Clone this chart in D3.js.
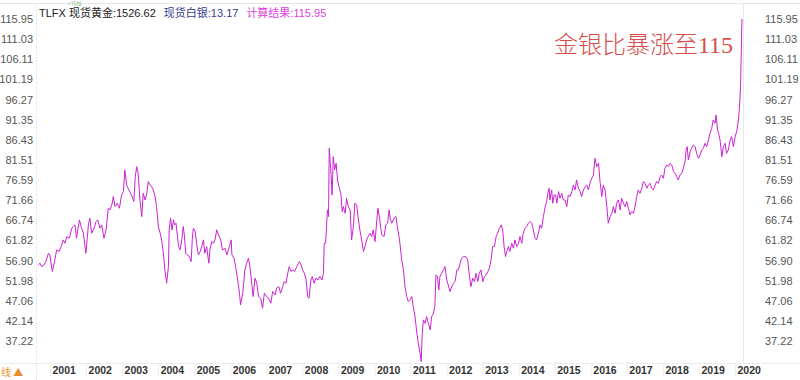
<!DOCTYPE html>
<html>
<head>
<meta charset="utf-8">
<script src="https://cdn.jsdelivr.net/npm/d3@7"></script>
<style>
  html, body { margin: 0; padding: 0; background: #fff; }
  svg { display: block; }
</style>
</head>
<body>
<svg id="chart" width="800" height="380"></svg>
<script>
// ---- data ----
const yearTicks = [2001,2002,2003,2004,2005,2006,2007,2008,2009,2010,2011,2012,2013,2014,2015,2016,2017,2018,2019,2020];
const valueTicks = [115.95,111.03,106.11,101.19,96.27,91.35,86.43,81.51,76.59,71.66,66.74,61.82,56.90,51.98,47.06,42.14,37.22];

// time in decimal years
const dates = [
2000.62,2000.67,2000.71,2000.78,2000.83,2000.90,2000.94,2001.01,2001.06,2001.13,2001.20,2001.27,2001.31,2001.36,2001.41,2001.48,2001.55,2001.59,2001.64,2001.68,
2001.76,2001.82,2001.87,2001.94,2002.01,2002.05,2002.10,2002.17,2002.22,2002.27,2002.33,2002.38,2002.44,2002.50,2002.56,2002.61,2002.66,2002.70,2002.75,2002.81,
2002.87,2002.93,2002.98,2003.02,2003.07,2003.13,2003.18,2003.24,2003.27,2003.31,2003.35,2003.39,2003.44,2003.49,2003.53,2003.58,2003.63,2003.67,2003.72,2003.76,
2003.81,2003.86,2003.90,2003.95,2004.00,2004.04,2004.09,2004.13,2004.18,2004.23,2004.25,2004.29,2004.33,2004.37,2004.40,2004.44,2004.48,2004.51,2004.55,2004.60,
2004.64,2004.67,2004.71,2004.75,2004.81,2004.86,2004.89,2004.92,2004.97,2005.01,2005.06,2005.11,2005.15,2005.20,2005.24,2005.29,2005.35,2005.38,2005.43,2005.48,
2005.52,2005.57,2005.62,2005.68,2005.73,2005.80,2005.85,2005.92,2005.97,2005.99,2006.05,2006.10,2006.15,2006.20,2006.23,2006.29,2006.35,2006.40,2006.45,2006.49,
2006.54,2006.58,2006.63,2006.68,2006.73,2006.79,2006.84,2006.89,2006.95,2007.01,2007.07,2007.12,2007.19,2007.23,2007.29,2007.34,2007.40,2007.44,2007.49,2007.54,
2007.58,2007.63,2007.68,2007.73,2007.79,2007.86,2007.91,2007.95,2008.00,2008.05,2008.09,2008.13,2008.18,2008.22,2008.27,2008.32,2008.38,2008.43,2008.49,2008.53,
2008.55,2008.59,2008.64,2008.67,2008.69,2008.73,2008.77,2008.80,2008.84,2008.88,2008.92,2008.96,2009.01,2009.05,2009.08,2009.13,2009.17,2009.22,2009.27,2009.31,
2009.36,2009.40,2009.45,2009.50,2009.54,2009.59,2009.64,2009.68,2009.73,2009.77,2009.82,2009.87,2009.91,2009.96,2010.01,2010.04,2010.08,2010.12,2010.15,2010.21,
2010.26,2010.31,2010.35,
2010.38,2010.42,2010.49,2010.54,2010.58,2010.64,2010.70,2010.75,2010.79,2010.84,2010.88,2010.93,2010.98,2011.02,2011.07,2011.12,2011.16,2011.21,2011.24,2011.27,
2011.30,2011.35,2011.39,2011.44,2011.49,2011.53,2011.58,2011.62,2011.65,2011.69,2011.73,2011.76,2011.81,2011.86,2011.90,2011.95,2011.99,2012.04,2012.09,2012.13,
2012.18,2012.23,2012.27,2012.32,2012.36,2012.41,2012.48,2012.53,2012.58,2012.62,2012.67,2012.72,2012.76,2012.81,2012.85,2012.90,2012.95,2012.99,2013.04,2013.09,
2013.13,2013.18,2013.22,2013.27,2013.32,2013.36,2013.41,2013.46,2013.50,2013.54,2013.58,2013.61,2013.66,2013.70,2013.75,2013.80,2013.84,2013.89,2013.94,2013.98,
2014.03,2014.07,2014.12,2014.17,2014.21,2014.26,2014.31,2014.35,2014.40,2014.44,2014.49,2014.54,2014.58,2014.63,2014.68,2014.72,2014.75,2014.79,2014.81,2014.86,
2014.89,2014.93,2014.97,2015.00,2015.05,2015.09,2015.14,2015.18,2015.23,2015.28,2015.32,2015.37,2015.42,2015.46,2015.51,2015.55,2015.60,2015.65,2015.69,2015.74,
2015.79,2015.83,2015.88,2015.92,2015.97,2016.02,2016.06,2016.11,2016.16,2016.20,2016.25,2016.29,2016.34,2016.39,2016.43,2016.48,2016.53,2016.57,2016.62,2016.66,
2016.71,2016.76,2016.80,2016.85,2016.90,2016.94,2016.99,2017.03,2017.08,2017.13,2017.17,2017.22,2017.26,2017.31,2017.36,2017.40,2017.45,2017.50,2017.54,2017.59,
2017.63,2017.68,2017.73,2017.77,2017.82,2017.87,2017.91,2017.96,2018.00,2018.05,2018.10,2018.14,2018.19,2018.24,2018.28,2018.33,2018.37,2018.42,2018.47,2018.51,
2018.56,2018.59,2018.62,2018.65,2018.70,2018.74,2018.79,2018.84,2018.88,2018.93,2018.98,2019.02,2019.07,2019.11,2019.16,2019.21,2019.25,2019.30,2019.34,2019.39,
2019.42,2019.46,2019.49,2019.53,2019.58,2019.62,2019.67,2019.71,2019.76,2019.81,2019.85,2019.90,2019.95,2019.99,2020.04,2020.07,
2020.08,2020.10,2020.12,2020.13,2020.14
];

// gold / silver ratio
const ratio = [
55.83,56.24,55.42,55.83,56.64,58.68,58.27,54.20,56.24,59.49,59.09,60.72,61.94,61.13,62.75,62.34,64.79,65.20,65.61,62.34,
66.83,64.79,63.57,58.68,65.61,67.23,63.57,64.79,66.42,66.83,64.79,65.61,62.34,64.38,69.68,69.27,70.49,72.53,70.09,70.90,
69.68,72.94,73.75,79.05,75.38,74.16,73.34,72.12,71.31,77.42,79.86,78.23,71.71,67.64,73.34,71.71,73.34,76.20,75.38,74.97,
74.16,72.53,70.09,65.20,63.57,61.94,58.68,54.61,51.35,55.42,64.38,67.23,64.38,66.83,65.61,66.01,62.75,60.31,59.49,61.94,
65.20,63.16,58.68,58.27,57.87,56.64,61.94,64.79,63.98,61.13,58.27,59.09,60.31,61.94,58.68,60.31,56.24,59.49,61.53,61.13,
61.94,64.38,63.16,61.94,59.49,59.90,58.27,60.31,61.94,58.27,57.46,55.01,52.16,48.90,46.05,48.90,54.61,56.24,57.46,55.42,
51.35,48.09,52.57,51.35,48.09,47.68,45.24,48.90,48.09,47.68,46.46,49.31,48.50,50.13,50.53,48.90,50.53,51.76,51.35,53.79,
55.42,54.20,54.61,54.20,55.42,56.64,55.83,54.61,53.79,52.16,48.09,47.68,52.16,52.98,51.35,52.57,52.16,52.98,52.16,53.79,
61.13,61.13,69.27,67.64,84.34,79.46,72.94,82.31,79.05,80.68,76.60,74.97,73.34,68.86,70.09,68.46,72.12,70.09,69.27,61.94,
65.20,70.90,70.49,66.83,64.38,61.94,59.09,60.31,61.94,62.75,63.57,62.75,64.38,61.53,66.83,69.68,67.64,64.79,63.16,62.75,
65.61,66.01,69.27,
67.23,66.01,67.23,67.64,65.19,61.93,57.04,54.60,50.53,48.08,46.86,47.27,48.08,45.64,43.19,39.12,36.68,34.23,32.20,39.12,
42.38,41.56,43.19,41.56,39.94,43.19,44.01,45.64,53.38,52.97,49.71,52.97,53.79,54.60,55.42,52.16,50.93,49.31,50.53,51.34,
51.75,54.60,54.60,56.23,57.45,57.86,57.86,57.04,52.97,50.53,52.56,51.75,53.79,51.75,53.79,54.60,51.75,52.97,53.38,54.19,
55.01,57.04,60.30,60.30,62.75,63.56,64.78,65.60,64.38,60.30,57.86,59.08,60.30,59.08,61.12,59.90,61.93,60.30,61.12,62.75,
61.12,63.56,64.78,65.19,66.01,66.41,66.01,64.38,62.34,61.93,63.56,65.60,64.78,67.64,70.08,71.30,73.34,74.56,71.71,74.15,
70.89,72.93,72.93,70.89,73.75,72.12,73.34,71.71,71.71,70.08,72.93,72.52,73.75,75.37,74.15,76.60,74.56,73.75,72.52,74.15,
74.97,75.37,74.15,75.78,77.00,77.82,81.89,79.86,80.67,76.19,72.52,75.37,74.15,70.08,66.01,67.64,68.45,70.08,68.45,70.89,
71.71,69.27,72.12,70.89,70.08,71.30,69.67,68.04,68.86,68.45,70.08,72.52,74.15,73.34,74.56,76.19,75.78,74.56,75.37,75.78,
74.56,74.15,75.37,76.19,75.78,77.41,77.82,77.00,79.45,80.26,79.86,80.67,80.26,78.63,78.23,77.41,76.60,77.82,78.23,79.45,
81.08,83.93,84.74,81.49,83.52,84.34,85.15,84.74,83.11,81.89,82.71,83.93,84.34,85.56,84.74,86.37,88.00,89.23,91.26,90.45,
92.48,88.82,88.00,86.37,82.30,84.74,85.56,83.11,83.93,86.37,87.19,84.74,87.19,88.41,91.26,94.52,
96.15,100.20,108.40,113.50,115.95
];

const header = ["TLFX 现货黄金:1526.62", "现货白银:13.17", "计算结果:115.95"];
const note = "金银比暴涨至115";

// ---- drawing ----
const svg = d3.select("#chart");
const W = 800, H = 380;
const plotLeft = 36, plotRight = 743, plotTop = 3, plotBottom = 363;

const x = d3.scaleLinear().domain([2001, 2020]).range([52, 737]);
const y = d3.scaleLinear().domain([37.22, 115.95]).range([341, 19]);

// frame
svg.append("line").attr("x1", 0).attr("x2", W).attr("y1", plotTop + 0.5).attr("y2", plotTop + 0.5)
  .attr("stroke", "#e6e6e6");
svg.append("line").attr("x1", plotLeft + 0.5).attr("x2", plotLeft + 0.5).attr("y1", plotTop).attr("y2", H)
  .attr("stroke", "#e0e0e0").attr("stroke-dasharray", "1,1");
svg.append("line").attr("x1", plotRight + 0.5).attr("x2", plotRight + 0.5).attr("y1", plotTop).attr("y2", plotBottom)
  .attr("stroke", "#e8e8e8");
svg.append("line").attr("x1", 0).attr("x2", W).attr("y1", plotBottom + 0.5).attr("y2", plotBottom + 0.5)
  .attr("stroke", "#ececec");

// y axes (left & right)
const fmt = d3.format(".2f");
const yLeft = d3.axisLeft(y).tickValues(valueTicks).tickFormat(fmt).tickSize(0).tickPadding(3);
const gL = svg.append("g").attr("transform", `translate(${plotLeft},0)`).call(yLeft);
const yRight = d3.axisRight(y).tickValues(valueTicks).tickFormat(fmt).tickSize(0).tickPadding(22);
const gR = svg.append("g").attr("transform", `translate(${plotRight},0)`).call(yRight);
[gL, gR].forEach(g => {
  g.select(".domain").remove();
  g.selectAll("text").attr("fill", "#555").style("font-family", "Arial, 'Liberation Sans', sans-serif")
    .style("font-size", "11px");
});

// x axis
const xAxis = d3.axisBottom(x).tickValues(yearTicks).tickFormat(d3.format("d")).tickSize(14).tickPadding(0);
const gX = svg.append("g").attr("transform", `translate(0,${plotBottom})`).call(xAxis);
gX.select(".domain").remove();
gX.selectAll(".tick line").attr("stroke", "#dcdcdc").attr("stroke-dasharray", "1,1").attr("transform", "translate(-2,0)");
gX.selectAll("text")
  .attr("text-anchor", "start").attr("x", 0).attr("y", 11).attr("dy", null)
  .attr("fill", "#333").style("font-family", "Arial, 'Liberation Sans', sans-serif")
  .style("font-size", "10.5px").style("font-weight", "bold");

// bottom-left label
svg.append("text").attr("x", 1).attr("y", 376).text("线 ▲")
  .attr("fill", "#e8902a").style("font-family", "'Noto Sans CJK SC', sans-serif").style("font-size", "10px");

// line
const line = d3.line().x((d, i) => x(dates[i])).y(d => y(d));
svg.append("path").datum(ratio).attr("d", line)
  .attr("fill", "none").attr("stroke", "#cc22d4").attr("stroke-width", 1).attr("stroke-linejoin", "round");

// header
const hdr = svg.append("text").attr("x", 39).attr("y", 16.5)
  .style("font-family", "Arial, 'Noto Sans CJK SC', sans-serif").style("font-size", "11px");
hdr.append("tspan").text(header[0]).attr("fill", "#222");
hdr.append("tspan").text(header[1]).attr("dx", 8).attr("fill", "#3a3a8c");
hdr.append("tspan").text(header[2]).attr("dx", 8).attr("fill", "#e040e0");
svg.append("text").attr("x", 68).attr("y", 5).text("✓均线")
  .attr("fill", "#8cc08c").style("font-family", "'Noto Sans CJK SC', sans-serif").style("font-size", "5px");

// annotation
svg.append("text").attr("x", 733).attr("y", 53).attr("text-anchor", "end").text(note)
  .attr("fill", "#d94c4c")
  .style("font-family", "'Liberation Serif', 'Noto Sans CJK SC', serif").style("font-size", "24px")
  .style("font-weight", "300");
</script>
</body>
</html>
